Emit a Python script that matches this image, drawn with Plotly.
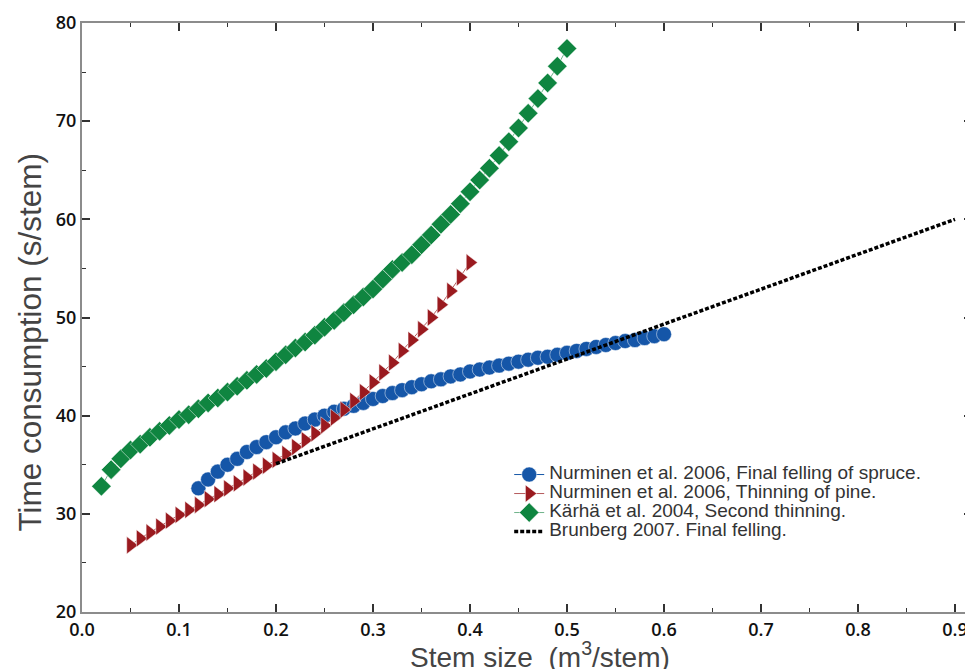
import plotly.graph_objects as go

# Nurminen et al. 2006, final felling of spruce
spruce_x = [round(0.12 + 0.01 * i, 2) for i in range(49)]
spruce_y = [32.6, 33.5, 34.3, 35.0, 35.6, 36.3, 36.8, 37.3, 37.8, 38.3,
            38.7, 39.2, 39.6, 40.0, 40.4, 40.7, 41.0, 41.3, 41.7, 42.0,
            42.3, 42.6, 42.9, 43.2, 43.5, 43.7, 44.0, 44.2, 44.5, 44.7,
            44.9, 45.1, 45.3, 45.5, 45.7, 45.9, 46.0, 46.2, 46.4, 46.6,
            46.8, 47.0, 47.2, 47.4, 47.6, 47.7, 47.9, 48.1, 48.3]

# Nurminen et al. 2006, thinning of pine
pine_x = [round(0.05 + 0.01 * i, 2) for i in range(36)]
pine_y = [26.8, 27.5, 28.1, 28.7, 29.3, 29.9, 30.4, 30.9, 31.5, 32.0,
          32.6, 33.1, 33.7, 34.3, 34.9, 35.5, 36.1, 36.8, 37.5, 38.2,
          39.0, 39.8, 40.6, 41.5, 42.4, 43.4, 44.4, 45.4, 46.6, 47.7,
          48.8, 50.0, 51.3, 52.7, 54.1, 55.6]

# Kärhä et al. 2004, second thinning
karha_x = [round(0.02 + 0.01 * i, 2) for i in range(49)]
karha_y = [32.8, 34.5, 35.6, 36.5, 37.1, 37.8, 38.4, 39.0, 39.6, 40.1,
           40.7, 41.3, 41.8, 42.4, 43.0, 43.6, 44.2, 44.8, 45.5, 46.2,
           46.9, 47.5, 48.2, 49.0, 49.7, 50.5, 51.3, 52.1, 52.9, 53.9,
           54.9, 55.6, 56.4, 57.4, 58.4, 59.5, 60.5, 61.6, 62.8, 64.0,
           65.2, 66.5, 67.9, 69.3, 70.8, 72.3, 73.9, 75.6, 77.4]

# Brunberg 2007, final felling
brun_x = [0.2, 0.9]
brun_y = [35.1, 60.0]

x_ticks = [0.0, 0.1, 0.2, 0.3, 0.4, 0.5, 0.6, 0.7, 0.8, 0.9]
x_tick_labels = ["0.0", "0.1", "0.2", "0.3", "0.4", "0.5", "0.6", "0.7", "0.8", "0.9"]
y_ticks = [20, 30, 40, 50, 60, 70, 80]


def legend_label(s):
    return '<span style="font-size:19px">' + s + '</span>'


fig = go.Figure()
fig.add_trace(go.Scatter(
    x=spruce_x, y=spruce_y, mode="lines+markers",
    name=legend_label("Nurminen et al. 2006, Final felling of spruce."),
    line=dict(color="#1556a8", width=1),
    marker=dict(symbol="circle", size=15, color="#1556a8",
                line=dict(color="rgba(255,255,255,0.6)", width=0.8))))
fig.add_trace(go.Scatter(
    x=pine_x, y=pine_y, mode="lines+markers",
    name=legend_label("Nurminen et al. 2006, Thinning of pine."),
    line=dict(color="#b55a5c", width=1),
    marker=dict(symbol="triangle-right", size=15, color="#9a1a1f",
                line=dict(color="rgba(255,255,255,0.6)", width=0.8))))
fig.add_trace(go.Scatter(
    x=karha_x, y=karha_y, mode="lines+markers",
    name=legend_label("Kärhä et al. 2004, Second thinning."),
    line=dict(color="#6fb38a", width=1),
    marker=dict(symbol="diamond", size=15, color="#0f8540",
                line=dict(color="rgba(255,255,255,0.6)", width=0.8))))
fig.add_trace(go.Scatter(
    x=brun_x, y=brun_y, mode="lines",
    name=legend_label("Brunberg 2007. Final felling."),
    line=dict(color="#000000", width=3.5, dash="4px,2px")))

axis_common = dict(
    showline=True, linecolor="#8c8c8c", linewidth=2, mirror="ticks",
    ticks="inside", tickcolor="#333333", tickwidth=1.5, ticklen=8,
    showgrid=False, zeroline=False, automargin=False,
    tickfont=dict(family="Open Sans", size=18, color="#111111", weight=600),
)

title_font = dict(family="Liberation Sans, Arial", color="#444444")

fig.update_layout(
    width=965, height=661,
    margin=dict(l=74, r=1, t=15, b=57),
    paper_bgcolor="white", plot_bgcolor="white",
    showlegend=True,
    legend=dict(x=0.48, y=0.258, xanchor="left", yanchor="top",
                bgcolor="rgba(0,0,0,0)", valign="middle",
                font=dict(family="Liberation Sans, Arial", size=12, color="#333333"),
                itemwidth=30, tracegroupgap=0),
    xaxis=dict(
        range=[0, 0.9175], tickvals=x_ticks, ticktext=x_tick_labels,
        minor=dict(dtick=0.05, tick0=0, ticks="inside", ticklen=4,
                   tickcolor="#333333", tickwidth=1),
        **axis_common),
    yaxis=dict(
        range=[20, 80], tickvals=y_ticks,
        minor=dict(dtick=5, tick0=0, ticks="inside", ticklen=4,
                   tickcolor="#333333", tickwidth=1),
        **axis_common),
    annotations=[
        dict(text="Stem size  (m<sup>3</sup>/stem)", xref="paper", yref="paper",
             x=0.515, y=-0.073, xanchor="center", yanchor="middle",
             showarrow=False, font=dict(size=28, **title_font)),
        dict(text="Time consumption (s/stem)", xref="paper", yref="paper",
             x=-0.058, y=0.458, xanchor="center", yanchor="middle", textangle=-90,
             showarrow=False, font=dict(size=31.5, **title_font)),
    ],
)

fig.write_html("out.html")
